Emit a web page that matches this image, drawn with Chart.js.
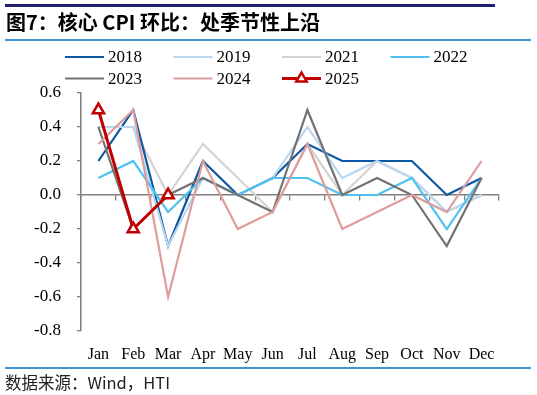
<!DOCTYPE html>
<html>
<head>
<meta charset="utf-8">
<script src="https://cdn.jsdelivr.net/npm/chart.js@4.4.1/dist/chart.umd.min.js"></script>
<style>
  html, body { margin: 0; padding: 0; background: #fff; width: 537px; height: 395px; overflow: hidden; }
  #wrap { position: relative; width: 537px; height: 395px; }
  canvas { position: absolute; left: 0; top: 0; }
  .rule { position: absolute; }
  #title { position: absolute; left: 6px; top: 9px; font-family: "Noto Sans CJK SC", sans-serif; font-weight: 700; font-size: 20px; color: #000; white-space: nowrap; line-height: 26px; }
  #source { position: absolute; left: 5px; top: 371px; font-family: "Noto Sans CJK SC", sans-serif; font-size: 16.5px; color: #222; white-space: nowrap; line-height: 22px; }
</style>
</head>
<body>
<div id="wrap">
  <canvas id="c" width="537" height="395"></canvas>
  <div class="rule" style="left:5px;top:4px;width:490px;height:3px;background:#201e70;"></div>
  <div id="title">图7：核心 CPI 环比：处季节性上沿</div>
  <div class="rule" style="left:5px;top:39px;width:526px;height:2px;background:#3a96d8;"></div>
  <div class="rule" style="left:5px;top:367px;width:526px;height:2px;background:#3a96d8;"></div>
  <div id="source">数据来源：Wind，HTI</div>
</div>
<script>
const months = ['Jan','Feb','Mar','Apr','May','Jun','Jul','Aug','Sep','Oct','Nov','Dec'];
const yTicks = [-0.8, -0.6, -0.4, -0.2, 0.0, 0.2, 0.4, 0.6];
const seriesNames = ['2018','2019','2021','2022','2023','2024','2025'];
const s2018 = [0.2, 0.5, -0.3, 0.2, 0.0, 0.1, 0.3, 0.2, 0.2, 0.2, 0.0, 0.1];
const s2019 = [0.4, 0.4, -0.3, 0.1, 0.0, 0.1, 0.4, 0.1, 0.2, 0.1, -0.1, 0.0];
const s2021 = [0.4, 0.4, 0.0, 0.3, 0.1, -0.1, 0.3, 0.0, 0.2, 0.1, -0.1, 0.0];
const s2022 = [0.1, 0.2, -0.1, 0.1, 0.0, 0.1, 0.1, 0.0, 0.0, 0.1, -0.2, 0.1];
const s2023 = [0.4, -0.2, 0.0, 0.1, 0.0, -0.1, 0.5, 0.0, 0.1, 0.0, -0.3, 0.1];
const s2024 = [0.3, 0.5, -0.6, 0.2, -0.2, -0.1, 0.3, -0.2, -0.1, 0.0, -0.1, 0.2];
const s2025 = [0.5, -0.2, 0.0];

const seriesValues = [s2018, s2019, s2021, s2022, s2023, s2024, s2025];
const colors = ['#0a57a3', '#bcd6ee', '#d3d3d3', '#4fc1ef', '#727272', '#de9d9d', '#c00000'];
const drawOrder = [9, 8, 10, 7, 6, 5, 4];

const datasets = seriesValues.map((vals, i) => {
  const isLast = i === seriesValues.length - 1;
  return {
    label: seriesNames[i],
    data: vals,
    borderColor: colors[i],
    backgroundColor: colors[i],
    borderWidth: isLast ? 3 : 2.2,
    tension: 0,
    fill: false,
    order: drawOrder[i],
    pointRadius: isLast ? 6.5 : 0,
    pointHoverRadius: isLast ? 6.5 : 0,
    pointStyle: 'triangle',
    pointBackgroundColor: '#ffffff',
    pointBorderColor: colors[i],
    pointBorderWidth: 2.5,
    xAxisID: 'x',
    yAxisID: 'y'
  };
});

const legendPlugin = {
  id: 'gridLegend',
  afterDraw(chart) {
    const ctx = chart.ctx;
    ctx.save();
    chart.data.datasets.forEach((ds, i) => {
      const col = i % 4, row = Math.floor(i / 4);
      const x0 = 65 + col * 108.5;
      const y = 57 + row * 21.5;
      ctx.strokeStyle = ds.borderColor;
      ctx.lineWidth = ds.pointRadius > 0 ? 3 : 2.2;
      ctx.beginPath();
      ctx.moveTo(x0, y);
      ctx.lineTo(x0 + 39, y);
      ctx.stroke();
      if (ds.pointRadius > 0) {
        ctx.fillStyle = '#ffffff';
        ctx.strokeStyle = ds.borderColor;
        ctx.lineWidth = 2.5;
        ctx.beginPath();
        const r = 6;
        ctx.moveTo(x0 + 19.5, y - r);
        ctx.lineTo(x0 + 19.5 + r * 0.866, y + r * 0.5);
        ctx.lineTo(x0 + 19.5 - r * 0.866, y + r * 0.5);
        ctx.closePath();
        ctx.fill();
        ctx.stroke();
      }
      ctx.fillStyle = '#000';
      ctx.font = '17px "Liberation Serif", "Times New Roman", serif';
      ctx.textBaseline = 'middle';
      ctx.textAlign = 'left';
      ctx.fillText(ds.label, x0 + 43, y + 1);
    });
    ctx.restore();
  }
};

new Chart(document.getElementById('c'), {
  type: 'line',
  data: { labels: months, datasets },
  options: {
    responsive: false,
    animation: false,
    devicePixelRatio: 1,
    layout: { padding: { top: 93, right: 38, bottom: 24, left: 0 } },
    plugins: { legend: { display: false }, tooltip: { enabled: false } },
    scales: {
      x: {
        type: 'category',
        position: { y: 0 },
        offset: true,
        ticks: { display: false },
        grid: { drawOnChartArea: false, drawTicks: true, tickLength: 5, offset: true, color: '#7f7f7f', lineWidth: 1.3 },
        border: { display: true, color: '#7f7f7f', width: 1.5 }
      },
      x2: {
        type: 'category',
        position: 'bottom',
        labels: months,
        offset: true,
        grid: { display: false, drawTicks: false },
        border: { display: false },
        ticks: { color: '#000', padding: 14, maxRotation: 0, autoSkip: false,
                 font: { family: '"Liberation Serif", "Times New Roman", serif', size: 16 } },
        afterFit(s) { s.height = 40; }
      },
      y: {
        type: 'linear',
        min: -0.8,
        max: 0.6,
        afterBuildTicks(s) { s.ticks = yTicks.map(v => ({ value: v })); },
        ticks: { color: '#000', padding: 16, callback: v => Number(v).toFixed(1),
                 font: { family: '"Liberation Serif", "Times New Roman", serif', size: 17 } },
        grid: { drawOnChartArea: false, drawTicks: true, tickLength: 4, color: '#7f7f7f', lineWidth: 1.3 },
        border: { display: true, color: '#7f7f7f', width: 1.5 },
        afterFit(s) { s.width = 81; }
      }
    }
  },
  plugins: [legendPlugin]
});
</script>
</body>
</html>
